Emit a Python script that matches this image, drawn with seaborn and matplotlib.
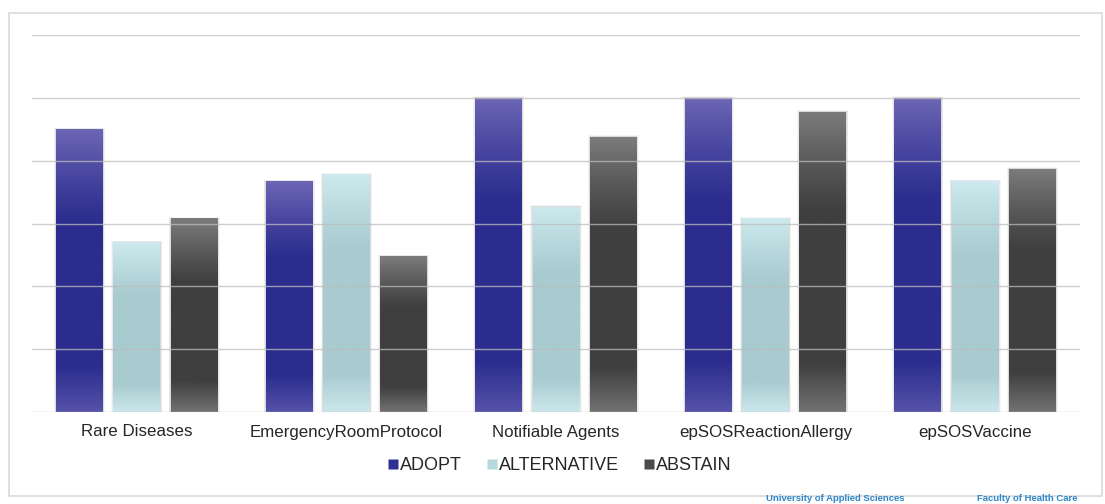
import numpy as np
import pandas as pd
import seaborn as sns
import matplotlib.pyplot as plt
from matplotlib.patches import Rectangle
from matplotlib.lines import Line2D
from matplotlib.colors import to_rgb

categories = ["Rare Diseases", "EmergencyRoomProtocol", "Notifiable Agents",
              "epSOSReactionAllergy", "epSOSVaccine"]
series = ["ADOPT", "ALTERNATIVE", "ABSTAIN"]
adopt = [4.5, 3.67, 5.0, 5.0, 5.0]
alternative = [2.7, 3.78, 3.27, 3.08, 3.67]
abstain = [3.08, 2.48, 4.38, 4.78, 3.87]

df = pd.DataFrame({
    "category": categories * 3,
    "series": np.repeat(series, len(categories)),
    "value": adopt + alternative + abstain,
})

# gradient stops per series: top, middle, bottom
grad = {
    "ADOPT": ("#6c66b5", "#2b2c8e", "#5552a8"),
    "ALTERNATIVE": ("#cdeaee", "#a8cbd0", "#cbe7eb"),
    "ABSTAIN": ("#7c7c7c", "#3f3f3f", "#727272"),
}
legend_colors = {"ADOPT": "#2e3192", "ALTERNATIVE": "#b7d9de", "ABSTAIN": "#4a4a4a"}

sns.set_style("white")
plt.rcParams["font.family"] = ["Liberation Sans", "DejaVu Sans"]

fig = plt.figure(figsize=(11.05, 5.04), dpi=100)
ax = fig.add_axes([32 / 1105, (504 - 412) / 504, (1080 - 32) / 1105, (412 - 35) / 504])

sns.barplot(data=df, x="category", y="value", hue="series", order=categories,
            hue_order=series, palette=legend_colors, width=0.82, gap=0.18,
            legend=False, ax=ax, zorder=2)

ax.set_xlim(-0.5, len(categories) - 0.5)
ax.set_ylim(0, 6)

t = np.linspace(0, 1, 200)  # 0 bottom -> 1 top
wtop = np.clip((t - 0.66) / 0.34, 0, 1) ** 1.2
wbot = np.clip((0.16 - t) / 0.16, 0, 1)

for name, cont in zip(series, ax.containers):
    c_top, c_mid, c_bot = (np.array(to_rgb(c)) for c in grad[name])
    img = (c_mid[None, :] * (1 - wtop - wbot)[:, None]
           + c_top[None, :] * wtop[:, None] + c_bot[None, :] * wbot[:, None])
    img = img[::-1][:, None, :]  # row 0 = top
    for bar in cont:
        x0, w, h = bar.get_x(), bar.get_width(), bar.get_height()
        # soft shadow round the bar
        for k, a in [(0.010, 0.04), (0.006, 0.05), (0.003, 0.06)]:
            ax.add_patch(Rectangle((x0 - k, 0), w + 2 * k, h + k * 2.5, facecolor="black",
                                   edgecolor="none", alpha=a, zorder=1.5))
        bar.set_facecolor("none")
        bar.set_edgecolor("none")
        im = ax.imshow(img, extent=[x0, x0 + w, 0, h], aspect="auto", zorder=2,
                       interpolation="bilinear")
        im.set_clip_path(bar)

ax.set_aspect("auto")
ax.set_xlim(-0.5, len(categories) - 0.5)
ax.set_ylim(0, 6)

for y in range(0, 7):
    ax.axhline(y, color="#bdbdbd", lw=1.0, alpha=0.75, zorder=3)

ax.set_yticks([])
ax.set_xlabel("")
ax.set_ylabel("")
ax.tick_params(axis="x", length=0, pad=9, labelsize=12.2)
for s in ax.spines.values():
    s.set_visible(False)

handles = [Line2D([], [], marker="s", linestyle="none", markersize=6.5,
                  markerfacecolor=legend_colors[s], markeredgecolor="none") for s in series]
fig.legend(handles, series, loc="center", bbox_to_anchor=(560 / 1105, (504 - 466) / 504),
           ncol=3, frameon=False, fontsize=13, handlelength=0.5, handletextpad=0.15,
           columnspacing=1.4)

# outer chart frame
fig.add_artist(Rectangle((9 / 1105, (504 - 496) / 504), (1102 - 9) / 1105, (496 - 13) / 504,
                         transform=fig.transFigure, facecolor="none", edgecolor="#d9d9d9",
                         lw=1.2))

# footer
fig.text(766 / 1105, 0.002, "University of Applied Sciences", color="#2f86c8",
         fontsize=6.8, fontweight="bold", va="bottom", ha="left")
fig.text(977 / 1105, 0.002, "Faculty of Health Care", color="#2f86c8",
         fontsize=6.8, fontweight="bold", va="bottom", ha="left")

fig.savefig("out.png", dpi=100)
